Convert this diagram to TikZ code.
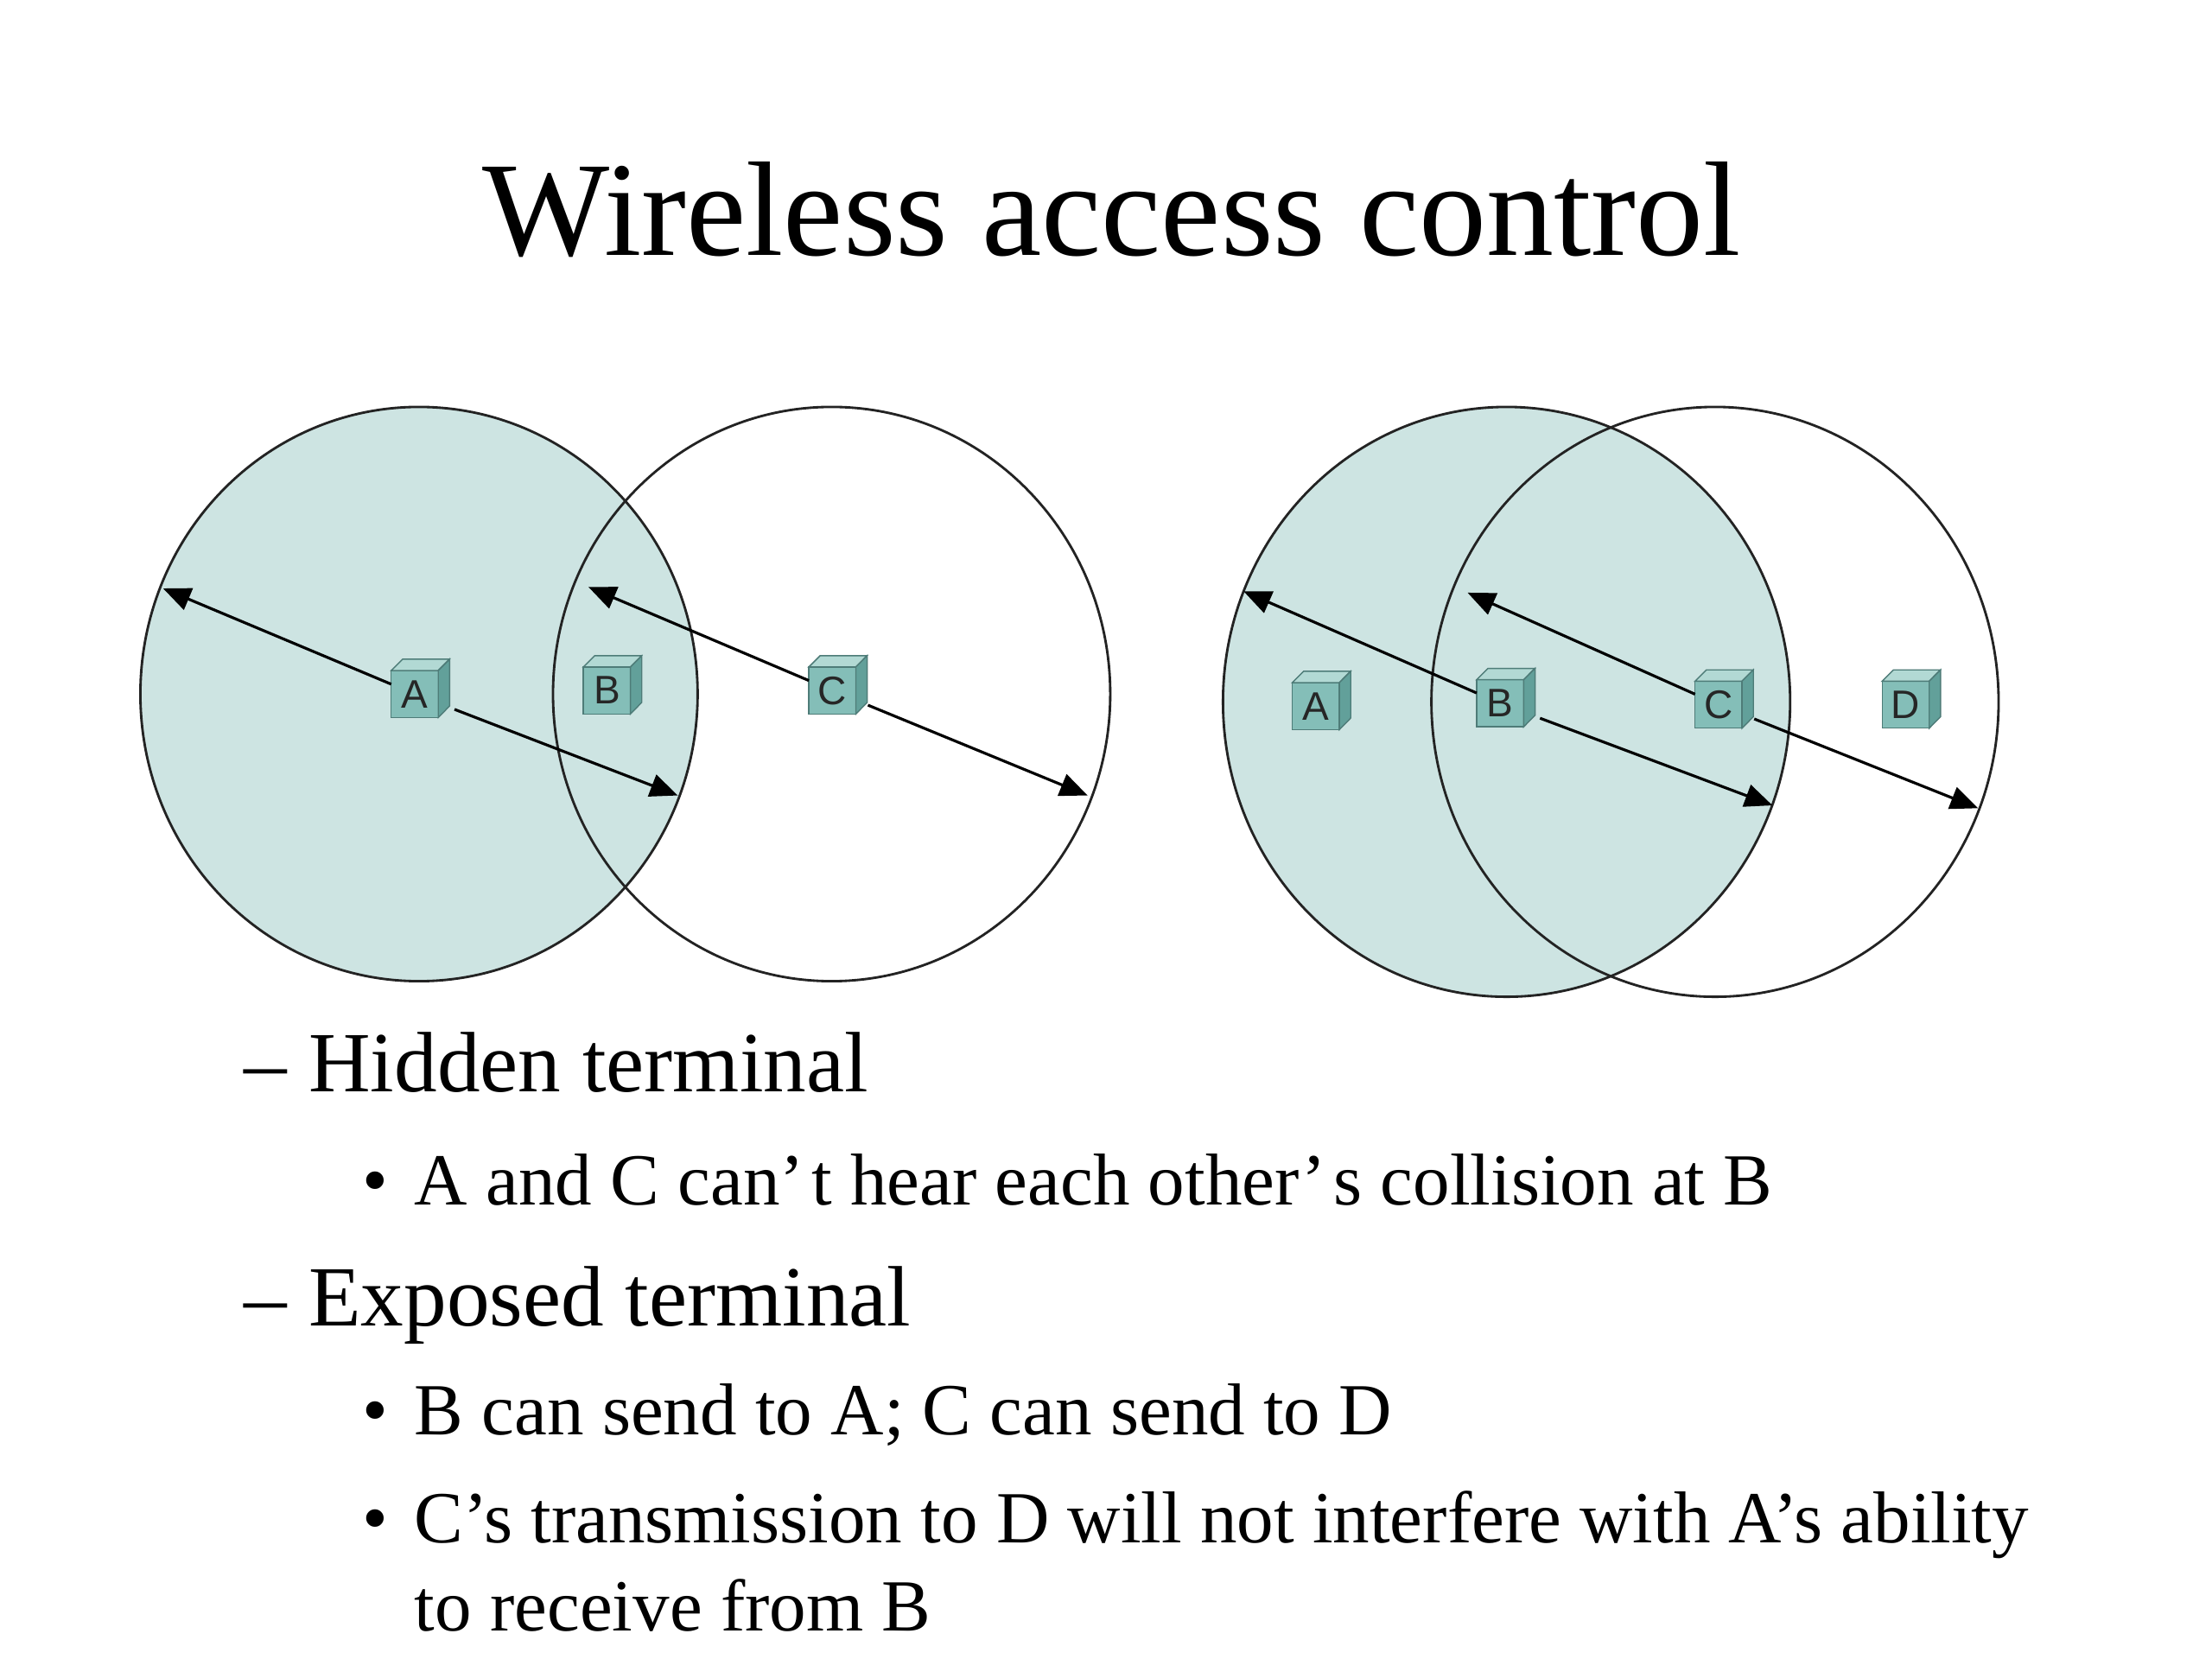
\documentclass[tikz,border=0pt]{standalone}
\usepackage{fontspec}
\setmainfont{Liberation Serif}
\newfontfamily\boxfont{Liberation Sans}
\usepackage{tikz}
\usetikzlibrary{arrows.meta,positioning}
\definecolor{wlfill}{RGB}{205,228,226}
\definecolor{wlcube}{RGB}{132,190,184}
\definecolor{wltop}{RGB}{178,217,212}
\definecolor{wlside}{RGB}{98,160,154}
\definecolor{wledge}{RGB}{78,124,120}
\definecolor{wlline}{RGB}{35,35,35}
\tikzstyle{coverage} = [line width=0.8pt, color=wlline]
\tikzstyle{reach} = [line width=0.9pt, -{Triangle[length=9pt,width=7.5pt]}]
\tikzstyle{station} = [draw=wledge, fill=wlcube, line width=0.4pt, minimum width=5.4mm, minimum height=5.4mm, inner sep=0pt, outer sep=0pt, text=black!85, font=\boxfont\fontsize{13}{13}\selectfont]
\tikzstyle{face} = [draw=wledge, line width=0.4pt]
\tikzstyle{item} = [anchor=base west, inner sep=0pt]

\begin{document}
\begin{tikzpicture}[x=0.1628mm, y=0.1628mm]
\useasboundingbox (0,0) rectangle (1560,1170);

% Title
\node[anchor=base, inner sep=0pt] (title) at (784,990) {\fontsize{44}{50}\selectfont Wireless access control};

% Hidden terminal: ranges of A and C
\fill[wlfill] (295.5,680.5) ellipse [x radius=196.5, y radius=202.5];
\draw[coverage] (295.5,680.5) ellipse [x radius=196.5, y radius=202.5];
\draw[coverage] (586.5,680.5) ellipse [x radius=196.5, y radius=202.5];

% Exposed terminal: ranges of B and C
\fill[wlfill] (1062.5,675) ellipse [x radius=200, y radius=208];
\draw[coverage] (1062.5,675) ellipse [x radius=200, y radius=208];
\draw[coverage] (1209.5,675) ellipse [x radius=200, y radius=208];

% Stations
\node[station] (hA) at (292.5,680.5) {A};
\node[station] (hB) at (428,683) {B};
\node[station] (hC) at (587,683) {C};
\node[station] (eA) at (928,672) {A};
\node[station] (eB) at (1058,674) {B};
\node[station] (eC) at (1212,673) {C};
\node[station] (eD) at (1344,673) {D};
\foreach \n in {hA,hB,hC,eA,eB,eC,eD}{
  \filldraw[face, fill=wltop] (\n.north west) -- ++(8,8) -- ++(33,0) -- (\n.north east) -- cycle;
  \filldraw[face, fill=wlside] (\n.north east) -- ++(8,8) -- ++(0,-33) -- (\n.south east) -- cycle;
}

% Edges of the ranges
\coordinate (hAw) at (115,755);
\coordinate (hAe) at (478,609);
\coordinate (hCw) at (415,756);
\coordinate (hCe) at (767,609);
\coordinate (eBw) at (877,753);
\coordinate (eBe) at (1250,602);
\coordinate (eCw) at (1035,752);
\coordinate (eCe) at (1395,600);
\draw[reach] (hA) -- (hAw);
\draw[reach, shorten <=2mm] (hA) -- (hAe);
\draw[reach] (hC) -- (hCw);
\draw[reach, shorten <=1.5mm] (hC) -- (hCe);
\draw[reach] (eB) -- (eBw);
\draw[reach, shorten <=2mm] (eB) -- (eBe);
\draw[reach] (eC) -- (eCw);
\draw[reach, shorten <=1.5mm] (eC) -- (eCe);

% Notes
\node[item, font=\fontsize{28}{34}\selectfont] (hidden) at (172,400) {– Hidden terminal};
\node[item, font=\fontsize{24}{29}\selectfont] (hb1) at (255,320) {•};
\node[item, font=\fontsize{24}{29}\selectfont] (ht1) at (292,320) {A and C can’\hspace{0.1em}t hear each other’\hspace{0.1em}s collision at B};
\node[item, font=\fontsize{28}{34}\selectfont] (exposed) at (172,235) {– Exposed terminal};
\node[item, font=\fontsize{24}{29}\selectfont] (eb1) at (255,158) {•};
\node[item, font=\fontsize{24}{29}\selectfont] (et1) at (292,158) {B can send to A; C can send to D};
\node[item, font=\fontsize{24}{29}\selectfont] (eb2) at (255,82) {•};
\node[item, font=\fontsize{24}{29}\selectfont] (et2) at (292,82) {C’s transmission to D will not interfere with A’s ability};
\node[item, font=\fontsize{24}{29}\selectfont] (et3) at (292,20) {to receive from B};
\end{tikzpicture}
\end{document}
